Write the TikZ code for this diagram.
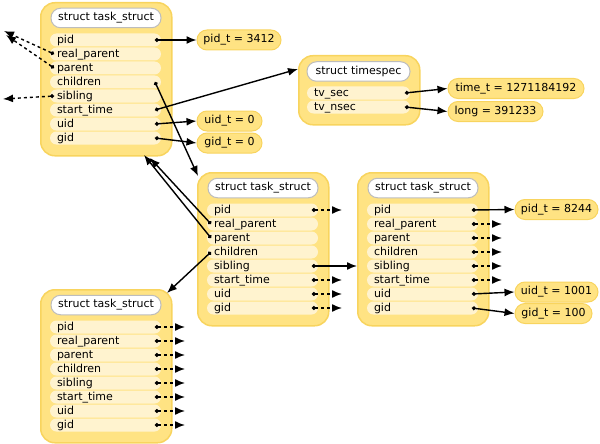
\documentclass[tikz,border=0pt]{standalone}
\usepackage{fontspec}
\setmainfont{DejaVu Sans}
\usetikzlibrary{arrows.meta}

\definecolor{boxfill}{HTML}{FFE383}
\definecolor{boxedge}{HTML}{F8D45E}
\definecolor{fieldfill}{HTML}{FFF3CF}
\definecolor{headedge}{HTML}{BDBDBD}

\tikzset{
  structbox/.style={draw=boxedge, fill=boxfill, line width=1.5pt, rounded corners=14pt,
    anchor=north west, inner sep=0pt},
  headpill/.style={draw=headedge, fill=white, line width=1pt, rounded corners=9.5pt,
    minimum height=19.5pt, inner sep=0pt, font=\fontsize{11pt}{13pt}\selectfont},
  fieldpill/.style={fill=fieldfill, rounded corners=6.5pt, minimum height=13pt,
    inner xsep=7pt, inner ysep=0pt, align=left, text height=9pt, text depth=2.5pt,
    font=\fontsize{11pt}{13pt}\selectfont},
  valuebox/.style={draw=boxedge, fill=boxfill, line width=1pt, rounded corners=10pt,
    minimum height=20pt, inner sep=0pt, font=\fontsize{11pt}{13pt}\selectfont},
  link/.style={line width=1.4pt, {Circle[length=3.8pt]}-{Latex[length=10pt,width=8pt]}},
  dlink/.style={link, dash pattern=on 3pt off 3pt},
}

% A task_struct record: name, left x, top y
\newcommand\taskbox[3]{%
  \node[structbox, minimum width=131pt, minimum height=153pt] (#1) at (#2,#3) {};
  \node[headpill, minimum width=110pt] (#1-head) at (#2+66,#3+16) {struct task\_struct};
  \foreach \f/\t [count=\i from 0] in {pid/pid, rparent/real\_parent, parent/parent,
      children/children, sibling/sibling, stime/start\_time, uid/uid, gid/gid}{
    \node[fieldpill, text width=97pt] (#1-\f) at (#2+65.5,#3+38+14*\i) {\t};
    \coordinate (#1-\f-r) at (#2+115,#3+38+14*\i);
    \coordinate (#1-\f-l) at (#2+14,#3+38+14*\i);
    \coordinate (#1-\f-o) at (#2+145,#3+38+14*\i);
  }
}

\begin{document}
\begin{tikzpicture}[x=1pt, y=-1pt]
\useasboundingbox (0,0) rectangle (600,444);

% the four task records
\taskbox{A}{40}{2}
\taskbox{C}{197}{172}
\taskbox{D}{357}{172}
\taskbox{E}{40}{289}

% the timespec record
\node[structbox, minimum width=121pt, minimum height=69pt] (T) at (298,55) {};
\node[headpill, minimum width=103pt] (T-head) at (358.5,71.5) {struct timespec};
\node[fieldpill, text width=89pt] (T-sec) at (358.5,93) {tv\_sec};
\node[fieldpill, text width=89pt] (T-nsec) at (358.5,107) {tv\_nsec};
\coordinate (T-sec-r) at (405,93);
\coordinate (T-nsec-r) at (405,107);
\coordinate (T-in) at (298,69);

% values
\node[valuebox, minimum width=84pt] (v3412) at (239,40) {pid\_t = 3412};
\node[valuebox, minimum width=65pt] (vuid0) at (229.5,121) {uid\_t = 0};
\node[valuebox, minimum width=65pt] (vgid0) at (229.5,143) {gid\_t = 0};
\node[valuebox, minimum width=136pt] (vsec) at (516,88.5) {time\_t = 1271184192};
\node[valuebox, minimum width=95pt] (vnsec) at (495.5,111.5) {long = 391233};
\node[valuebox, minimum width=83pt] (v8244) at (556.5,209.5) {pid\_t = 8244};
\node[valuebox, minimum width=83pt] (v1001) at (556.5,292) {uid\_t = 1001};
\node[valuebox, minimum width=77pt] (v100) at (553.5,313.5) {gid\_t = 100};

% loose ends
\coordinate (outRP) at (4,31);
\coordinate (outP) at (6,35);
\coordinate (outSib) at (3,99);
\coordinate (intoC) at (198,176);
\coordinate (backRP) at (150,158);
\coordinate (backP) at (144,155);
\coordinate (intoE) at (167,293);

% links of the first task
\draw[link] (A-pid-r) -- (v3412.west);
\draw[dlink] (A-rparent-l) -- (outRP);
\draw[dlink] (A-parent-l) -- (outP);
\draw[dlink] (A-sibling-l) -- (outSib);
\draw[link] (A-children-r) -- (intoC);
\draw[link] (A-stime-r) -- (T-in);
\draw[link] (A-uid-r) -- (vuid0.west);
\draw[link] (A-gid-r) -- (vgid0.west);

% timespec
\draw[link] (T-sec-r) -- (vsec.west);
\draw[link] (T-nsec-r) -- (vnsec.west);

% child task
\draw[link] (C-rparent-l) -- (backRP);
\draw[link] (C-parent-l) -- (backP);
\draw[link] (C-children-l) -- (intoE);
\draw[link] (C-sibling-r) -- (C-sibling-r -| D.west);
\foreach \f in {pid, stime, uid, gid}
  \draw[dlink] (C-\f-r) -- (C-\f-o);

% sibling task
\draw[link] (D-pid-r) -- (v8244.west);
\draw[link] (D-uid-r) -- (v1001.west);
\draw[link] (D-gid-r) -- (v100.west);
\foreach \f in {rparent, parent, children, sibling, stime}
  \draw[dlink] (D-\f-r) -- (D-\f-o);

% grandchild task
\foreach \f in {pid, rparent, parent, children, sibling, stime, uid, gid}
  \draw[dlink] (E-\f-r) -- (E-\f-o);
\end{tikzpicture}
\end{document}
